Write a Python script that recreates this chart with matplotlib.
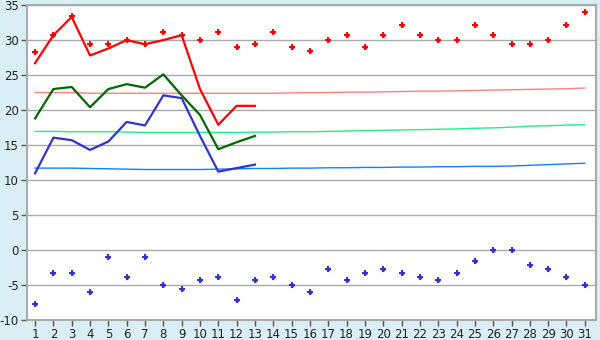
import matplotlib
matplotlib.use("Agg")
import matplotlib.pyplot as plt

days = list(range(1, 32))

# daily observed series (first 13 days)
max_temp = [26.7, 30.7, 33.3, 27.8, 28.8, 30.0, 29.4, 30.0, 30.7, 23.0, 17.9, 20.6, 20.6]
mean_temp = [18.8, 23.0, 23.3, 20.4, 23.0, 23.7, 23.2, 25.1, 22.1, 19.3, 14.4, 15.4, 16.3]
min_temp = [10.95, 16.05, 15.7, 14.3, 15.5, 18.3, 17.8, 22.1, 21.7, 16.3, 11.2, 11.7, 12.2]

# record / extreme markers
red_points = [28.3, 30.7, 33.4, 29.4, 29.4, 30.0, 29.4, 31.1, 30.7, 30.0,
              31.1, 28.95, 29.4, 31.1, 28.95, 28.4, 30.0, 30.7, 28.95, 30.7,
              32.2, 30.7, 30.0, 30.0, 32.2, 30.7, 29.4, 29.4, 30.0, 32.2, 34.0]
blue_points = [-7.7, -3.3, -3.3, -6.0, -1.05, -3.9, -1.05, -5.0, -5.6, -4.3,
               -3.9, -7.2, -4.3, -3.9, -5.0, -6.0, -2.75, -4.3, -3.3, -2.75,
               -3.3, -3.9, -4.3, -3.3, -1.6, 0.0, 0.0, -2.2, -2.75, -3.9, -5.0]

# normals
normal_max = [22.5, 22.5, 22.5, 22.4, 22.4, 22.4, 22.4, 22.4, 22.4, 22.4,
              22.4, 22.4, 22.4, 22.4, 22.45, 22.5, 22.5, 22.55, 22.55, 22.6,
              22.65, 22.7, 22.7, 22.75, 22.8, 22.85, 22.9, 22.95, 23.0, 23.05, 23.15]
normal_mean = [16.95, 16.95, 16.9, 16.9, 16.9, 16.85, 16.8, 16.8, 16.8, 16.8,
               16.8, 16.8, 16.85, 16.85, 16.9, 16.9, 16.95, 17.0, 17.05, 17.1,
               17.15, 17.2, 17.25, 17.3, 17.4, 17.45, 17.55, 17.7, 17.75, 17.85, 17.9]
normal_min = [11.7, 11.7, 11.7, 11.65, 11.6, 11.55, 11.5, 11.5, 11.5, 11.5,
              11.55, 11.6, 11.65, 11.65, 11.7, 11.7, 11.75, 11.75, 11.8, 11.8,
              11.85, 11.85, 11.9, 11.9, 11.95, 11.95, 12.0, 12.1, 12.2, 12.3, 12.4]

y_ticks = [-10, -5, 0, 5, 10, 15, 20, 25, 30, 35]

bg = "#d9eff5"
fig = plt.figure(figsize=(6, 3.4), dpi=100, facecolor=bg)
ax = fig.add_axes([0.045, 0.059, 0.948, 0.926])
ax.set_facecolor("white")

for t in y_ticks:
    ax.axhline(t, color="#aaaaaa", linewidth=1.0, zorder=0)

ax.plot(days, normal_max, color="#ff8080", linewidth=1.0, zorder=1)
ax.plot(days, normal_mean, color="#22ee88", linewidth=1.0, zorder=1)
ax.plot(days, normal_min, color="#1080ff", linewidth=1.0, zorder=1)

n = len(max_temp)
ax.plot(days[:n], max_temp, color="#ff0000", linewidth=1.6, zorder=3)
ax.plot(days[:n], mean_temp, color="#006600", linewidth=1.6, zorder=3)
ax.plot(days[:n], min_temp, color="#3333cc", linewidth=1.6, zorder=3)

for pts, col in ((red_points, "#ff0000"), (blue_points, "#3333cc")):
    ax.plot(days, pts, linestyle="none", marker="P", markersize=4.4,
            color=col, markeredgewidth=0, zorder=4)
    ax.plot(days, pts, linestyle="none", marker="D", markersize=2.8,
            color=col, markeredgewidth=0, zorder=4)

ax.set_xlim(0.56, 31.6)
ax.set_ylim(-10, 35)
ax.set_xticks(days)
ax.set_xticklabels([str(d) for d in days])
ax.set_yticks(y_ticks)
ax.set_yticklabels([str(t) for t in y_ticks])
ax.tick_params(axis="both", labelsize=8.5, color="#555555", length=4, width=1,
               labelcolor="#222222", pad=2)
for s in ax.spines.values():
    s.set_color("#aaaaaa")
    s.set_linewidth(1.5)

fig.savefig("out.png", dpi=100, facecolor=bg)
